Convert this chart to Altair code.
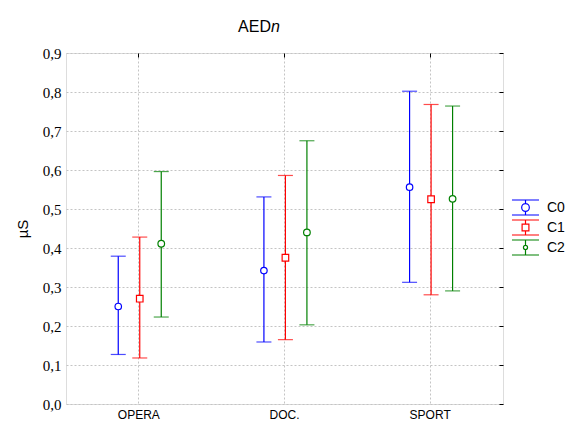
import altair as alt
import pandas as pd

categories = ["OPERA", "DOC.", "SPORT"]
series = ["C0", "C1", "C2"]
means = {"C0": [0.250, 0.342, 0.556], "C1": [0.270, 0.375, 0.525], "C2": [0.411, 0.440, 0.526]}
lows = {"C0": [0.127, 0.159, 0.312], "C1": [0.118, 0.165, 0.280], "C2": [0.223, 0.203, 0.290]}
highs = {"C0": [0.379, 0.531, 0.802], "C1": [0.428, 0.586, 0.768], "C2": [0.596, 0.675, 0.764]}
y_ticks = [0.0, 0.1, 0.2, 0.3, 0.4, 0.5, 0.6, 0.7, 0.8, 0.9]
colors = ["#0000ff", "#ff0000", "#008000"]
marker_shapes = ["circle", "square", "circle"]
marker_sizes = [42, 44, 10]
# legend symbols: error-bar glyphs (unit = 8.5 px at symbolSize 289)
legend_paths = [
    "M-1.59,-0.88H1.59M-1.59,0.88H1.59M0,-0.88V-0.45M0,0.45V0.88M0.45,0A0.45,0.45 0 1,1 -0.45,0A0.45,0.45 0 1,1 0.45,0Z",
    "M-1.59,-0.88H1.59M-1.59,0.88H1.59M0,-0.88V-0.4M0,0.4V0.88M-0.4,-0.4H0.4V0.4H-0.4Z",
    "M-1.59,-0.88H1.59M-1.59,0.88H1.59M0,-0.88V-0.24M0,0.24V0.88M0.24,0A0.24,0.24 0 1,1 -0.24,0A0.24,0.24 0 1,1 0.24,0Z",
]

rows = []
for s in series:
    for i, c in enumerate(categories):
        rows.append({"cat": c, "series": s, "mean": means[s][i], "low": lows[s][i], "high": highs[s][i]})
df = pd.DataFrame(rows)

W, H = 437, 351
grid_color = "#c4c4c4"

xscale = alt.Scale(type="band", paddingInner=0, paddingOuter=0)
x_main = alt.X(
    "cat:N", sort=categories, scale=xscale,
    axis=alt.Axis(title=None, labelFont="Liberation Sans", labelFontSize=12, labelColor="black",
                  labelAngle=0, labelPadding=5, ticks=False, domain=False, grid=True,
                  gridColor=grid_color, gridDash=[2, 2], bandPosition=0.5),
)
x_plain = alt.X("cat:N", sort=categories, scale=xscale, axis=None)
xo = alt.XOffset("series:N", sort=series, scale=alt.Scale(type="band", paddingInner=0, paddingOuter=0, range=[41.5, 106]))
yscale = alt.Scale(domain=[0, 0.9], nice=False, zero=False)
y_axis = alt.Axis(title="µS", values=y_ticks, titleFont="Liberation Sans", titleFontSize=15,
                  titleFontWeight="normal", titleColor="black", titlePadding=12,
                  labelFont="Liberation Serif", labelFontSize=15, labelColor="black", labelPadding=5,
                  labelExpr="replace(format(datum.value, '.1f'), '.', ',')",
                  ticks=False, domain=False, grid=True, gridColor=grid_color, gridDash=[2, 2])
color = alt.Color("series:N", sort=series, scale=alt.Scale(domain=series, range=colors), legend=None)

base = alt.Chart(df)

bars = base.mark_rule(strokeWidth=1.2).encode(
    x=x_main, xOffset=xo,
    y=alt.Y("low:Q", scale=yscale, axis=y_axis), y2="high:Q",
    color=color,
)
cap_lo = base.mark_tick(size=15, thickness=1.2).encode(
    x=x_plain, xOffset=xo, y=alt.Y("low:Q", scale=yscale, axis=None), color=color)
cap_hi = base.mark_tick(size=15, thickness=1.2).encode(
    x=x_plain, xOffset=xo, y=alt.Y("high:Q", scale=yscale, axis=None), color=color)
pts = base.mark_point(filled=False, fill="white", fillOpacity=1, strokeWidth=1.2, opacity=1).encode(
    x=x_plain, xOffset=xo, y=alt.Y("mean:Q", scale=yscale, axis=None),
    color=color,
    shape=alt.Shape("series:N", sort=series, scale=alt.Scale(domain=series, range=marker_shapes), legend=None),
    size=alt.Size("series:N", sort=series, scale=alt.Scale(domain=series, range=marker_sizes), legend=None),
)

legend_kw = dict(title=None, orient="none", legendX=450, legendY=145,
                 symbolOpacity=1, symbolSize=289, symbolStrokeWidth=1.2,
                 labelFont="Liberation Sans", labelFontSize=14, labelColor="black",
                 labelOffset=12, rowPadding=-2, padding=0)
legend_layer = base.mark_point(filled=False, opacity=0, size=289).encode(
    x=alt.X("cat:N", sort=categories, scale=xscale,
            axis=alt.Axis(orient="top", title=None, labels=False, domain=False, grid=False,
                          ticks=True, tickSize=4, offset=-4, tickColor="black", bandPosition=0.5)),
    xOffset=xo,
    y=alt.Y("mean:Q", scale=yscale,
            axis=alt.Axis(orient="right", title=None, labels=False, domain=False, grid=False,
                          values=y_ticks, ticks=True, tickSize=4, offset=-4, tickColor="black")),
    color=alt.Color("series:N", sort=series, scale=alt.Scale(domain=series, range=colors),
                    legend=alt.Legend(**legend_kw)),
    shape=alt.Shape("series:N", sort=series, scale=alt.Scale(domain=series, range=legend_paths),
                    legend=alt.Legend(**legend_kw)),
)

title_df = pd.DataFrame({"a": ["AED"], "b": ["n"]})
t1 = alt.Chart(title_df).mark_text(font="Liberation Sans", fontSize=16, align="right", baseline="alphabetic",
                                   color="black").encode(text="a:N", x=alt.value(205), y=alt.value(-21))
t2 = alt.Chart(title_df).mark_text(font="Liberation Sans", fontSize=16, fontStyle="italic", align="left",
                                   baseline="alphabetic", color="black").encode(text="b:N", x=alt.value(205), y=alt.value(-21))

chart = alt.layer(bars, cap_lo, cap_hi, pts, legend_layer, t1, t2).resolve_scale(
    color="independent", shape="independent", size="independent"
).resolve_axis(x="independent", y="independent").properties(
    width=W, height=H,
    autosize=alt.AutoSizeParams(type="none"),
    padding={"left": 58, "top": 45, "right": 65, "bottom": 17},
).configure_view(stroke="black", strokeWidth=1.5).configure(background="white")

chart.save("out.html", embed_options={"renderer": "svg", "actions": False})
